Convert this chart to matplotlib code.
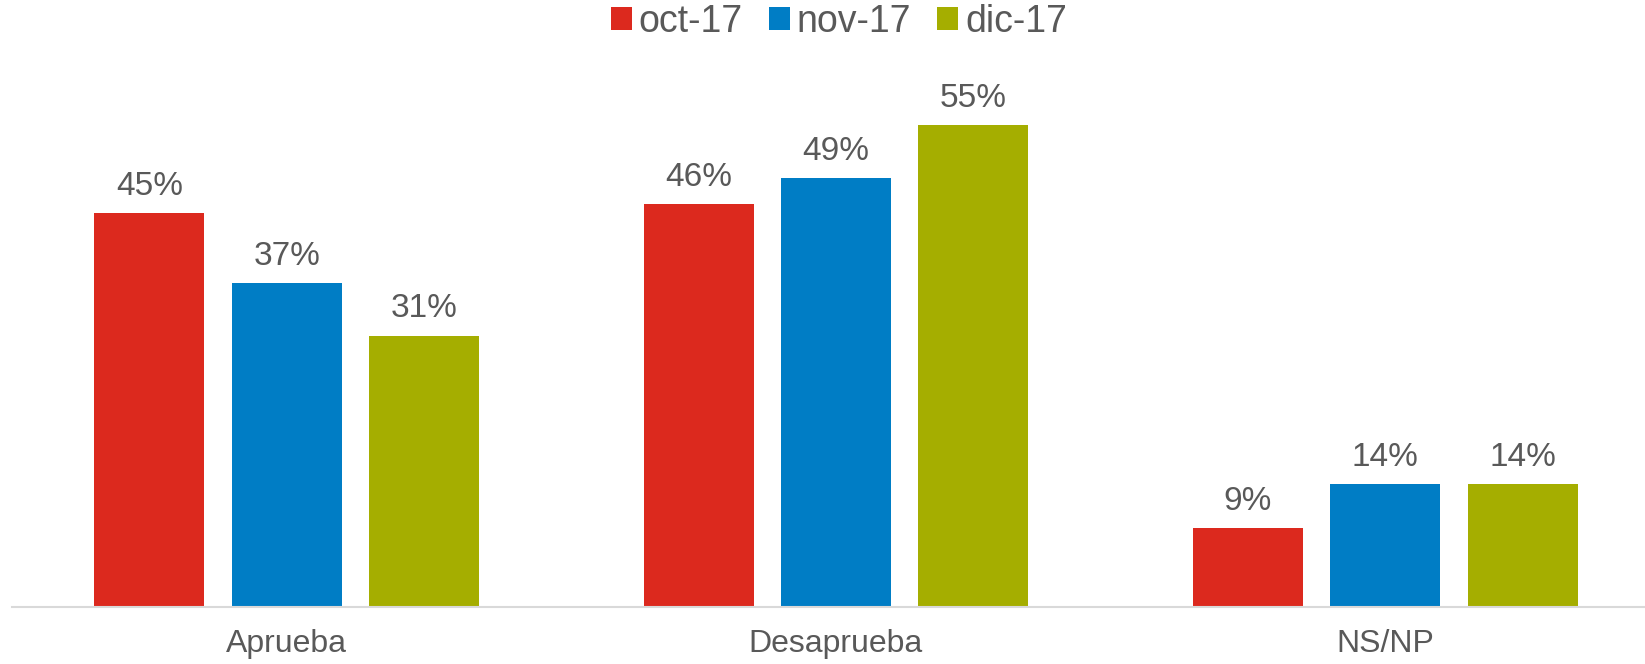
import matplotlib.pyplot as plt
import numpy as np

categories = ["Aprueba", "Desaprueba", "NS/NP"]
series = ["oct-17", "nov-17", "dic-17"]
values = [
    [45, 46, 9],
    [37, 49, 14],
    [31, 55, 14],
]
colors = ["#DC291E", "#007DC5", "#A5AE00"]
text_color = "#595959"

plt.rcParams['font.family'] = ['Liberation Sans', 'DejaVu Sans']

fig = plt.figure(figsize=(16.45, 6.64), dpi=100)
# the plot area runs a little past the right edge of the figure
ax = fig.add_axes([12 / 1645, 1 - 607 / 664, 1648 / 1645, (607 - 64) / 664])

x = np.arange(len(categories))
width = 0.2
step = 0.25
handles = []
for i, (name, vals) in enumerate(zip(series, values)):
    pos = x + (i - 1) * step
    bars = ax.bar(pos, vals, width, color=colors[i], label=name)
    handles.append(bars)
    for b, v in zip(bars, vals):
        ax.annotate(f"{v}%", (b.get_x() + b.get_width() / 2, v),
                    xytext=(0, 8), textcoords="offset points",
                    ha="center", va="bottom", fontsize=24, color=text_color)

ax.set_xlim(-0.5, 2.5)
ax.set_ylim(0, 62)
ax.set_xticks(x)
ax.set_xticklabels(categories, fontsize=23, color=text_color)
ax.tick_params(axis="x", length=0, pad=16)
ax.set_yticks([])
for s in ["top", "right", "left"]:
    ax.spines[s].set_visible(False)
ax.spines["bottom"].set_color("#D9D9D9")
ax.spines["bottom"].set_linewidth(1.5)

leg = fig.legend(handles=handles, labels=series, loc="upper center",
                 bbox_to_anchor=(0.510, 1.045), ncol=3, frameon=False,
                 fontsize=27, handlelength=0.56, handleheight=0.56,
                 handletextpad=0.18, columnspacing=0.7)
for t in leg.get_texts():
    t.set_color(text_color)

fig.savefig("out.png", dpi=100)
